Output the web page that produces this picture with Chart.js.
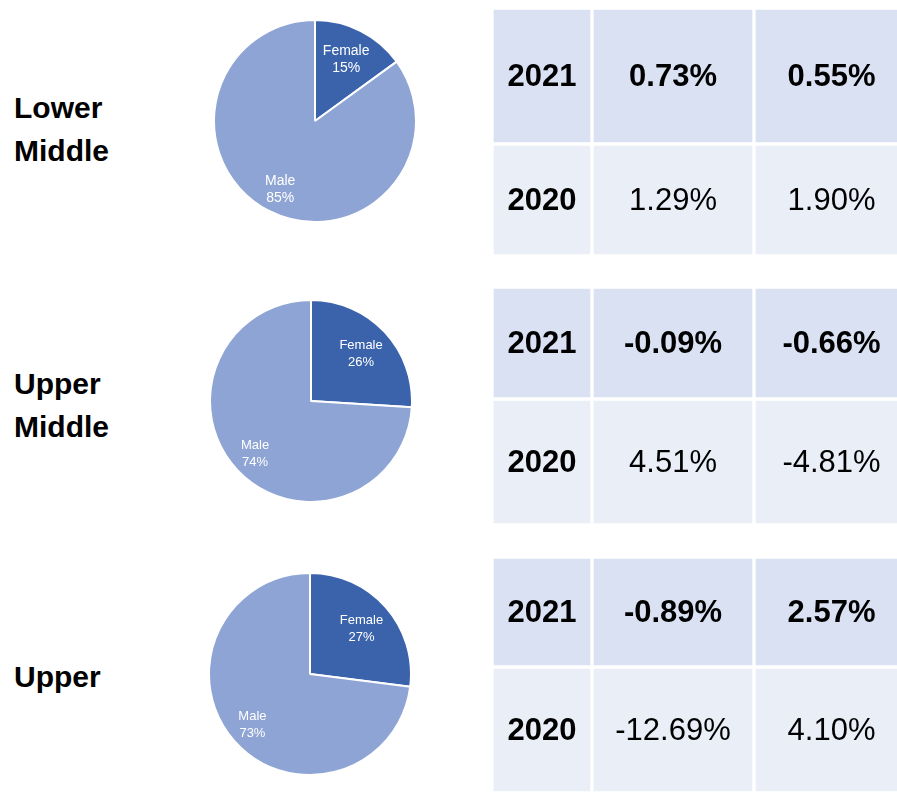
<!DOCTYPE html>
<html>
<head>
<meta charset="utf-8">
<script src="https://cdn.jsdelivr.net/npm/chart.js@4"></script>
<style>
  body { margin:0; width:897px; height:792px; overflow:hidden; background:#fff; position:relative; font-family:"Liberation Sans", Arial, sans-serif; }
  canvas { position:absolute; }
  .group { position:absolute; left:14px; font-weight:bold; font-size:30px; line-height:43px; color:#000; }
</style>
</head>
<body>
<div class="group" style="top:86px">Lower<br>Middle</div>
<div class="group" style="top:362px">Upper<br>Middle</div>
<div class="group" style="top:655px">Upper</div>

<canvas id="pie1" width="204" height="204" style="left:213px;top:19px"></canvas>
<canvas id="pie2" width="204" height="204" style="left:209px;top:299px"></canvas>
<canvas id="pie3" width="204" height="204" style="left:208px;top:572px"></canvas>

<canvas id="t1r1" width="417" height="136" style="left:492px;top:8px"></canvas>
<canvas id="t1r2" width="417" height="112" style="left:492px;top:144px"></canvas>
<canvas id="t2r1" width="417" height="112" style="left:492px;top:287px"></canvas>
<canvas id="t2r2" width="417" height="126" style="left:492px;top:399px"></canvas>
<canvas id="t3r1" width="417" height="110" style="left:492px;top:557px"></canvas>
<canvas id="t3r2" width="417" height="126" style="left:492px;top:667px"></canvas>

<script>
// data
var genders = ['Female', 'Male']
var lowerMiddleShare = [15, 85]
var upperMiddleShare = [26, 74]
var upperShare = [27, 73]

var years = ['2021', '2020']
var lowerMiddle2021 = [0.73, 0.55]
var lowerMiddle2020 = [1.29, 1.90]
var upperMiddle2021 = [-0.09, -0.66]
var upperMiddle2020 = [4.51, -4.81]
var upper2021 = [-0.89, 2.57]
var upper2020 = [-12.69, 4.10]

// styling / layout
var FONT = '"Liberation Sans", Arial, sans-serif'
var pieColors = ['#3B63AC', '#8EA4D4']
var labelRadius = [0.68, 0.76]
var rowColors = {'2021': '#D9E1F2', '2020': '#E9EEF7'}
var colWidths = [100, 162, 155]

Chart.defaults.font.family = FONT

var pieLabels = {
    id: 'pieLabels',
    afterDatasetsDraw: function(chart, args, opts){
        var ctx = chart.ctx
        var meta = chart.getDatasetMeta(0)
        var data = chart.data.datasets[0].data
        ctx.save()
        ctx.fillStyle = '#fff'
        ctx.textAlign = 'center'
        ctx.textBaseline = 'middle'
        ctx.font = opts.size + 'px ' + FONT
        meta.data.forEach(function(arc, i){
            var p = arc.getProps(['x', 'y', 'startAngle', 'endAngle', 'outerRadius'], true)
            var mid = (p.startAngle + p.endAngle) / 2
            var r = p.outerRadius * labelRadius[i]
            var cx = p.x + Math.cos(mid) * r
            var cy = p.y + Math.sin(mid) * r
            ctx.fillText(chart.data.labels[i], cx, cy - 8.5)
            ctx.fillText(data[i] + '%', cx, cy + 8.5)
        })
        ctx.restore()
    }
}

function makePie(id, values, size){
    return new Chart(document.getElementById(id), {
        type: 'pie',
        plugins: [pieLabels],
        data: {
            labels: genders,
            datasets: [{
                data: values,
                backgroundColor: pieColors,
                borderColor: '#fff',
                borderWidth: 2
            }]
        },
        options: {
            responsive: false,
            animation: false,
            devicePixelRatio: 1,
            layout: {padding: 0},
            plugins: {
                legend: {display: false},
                tooltip: {enabled: false},
                pieLabels: {size: size}
            }
        }
    })
}

var cellText = {
    id: 'cellText',
    afterDatasetsDraw: function(chart, args, opts){
        var ctx = chart.ctx
        ctx.save()
        ctx.fillStyle = '#000'
        ctx.textAlign = 'center'
        ctx.textBaseline = 'middle'
        chart.data.datasets.forEach(function(ds, i){
            var bar = chart.getDatasetMeta(i).data[0]
            var c = bar.getCenterPoint()
            var bold = (i == 0 || opts.year == '2021')
            ctx.font = (bold ? 'bold ' : '') + '31px ' + FONT
            ctx.fillText(ds.text, c.x, c.y + 1)
        })
        ctx.restore()
    }
}

function fmt(v){
    return v.toFixed(2) + '%'
}

function makeRow(id, year, values){
    var texts = [year, fmt(values[0]), fmt(values[1])]
    var datasets = []
    for(var i = 0; i < 3; i++){
        datasets.push({
            data: [colWidths[i]],
            text: texts[i],
            backgroundColor: rowColors[year],
            borderColor: '#fff',
            borderWidth: 2,
            borderSkipped: false,
            barPercentage: 1,
            categoryPercentage: 1
        })
    }
    return new Chart(document.getElementById(id), {
        type: 'bar',
        plugins: [cellText],
        data: {labels: [year], datasets: datasets},
        options: {
            indexAxis: 'y',
            responsive: false,
            animation: false,
            devicePixelRatio: 1,
            layout: {padding: 0},
            scales: {
                x: {stacked: true, display: false, min: 0, max: colWidths[0] + colWidths[1] + colWidths[2]},
                y: {stacked: true, display: false}
            },
            plugins: {
                legend: {display: false},
                tooltip: {enabled: false},
                cellText: {year: year}
            }
        }
    })
}

makePie('pie1', lowerMiddleShare, 14)
makePie('pie2', upperMiddleShare, 13)
makePie('pie3', upperShare, 13)

makeRow('t1r1', years[0], lowerMiddle2021)
makeRow('t1r2', years[1], lowerMiddle2020)
makeRow('t2r1', years[0], upperMiddle2021)
makeRow('t2r2', years[1], upperMiddle2020)
makeRow('t3r1', years[0], upper2021)
makeRow('t3r2', years[1], upper2020)
</script>
</body>
</html>
